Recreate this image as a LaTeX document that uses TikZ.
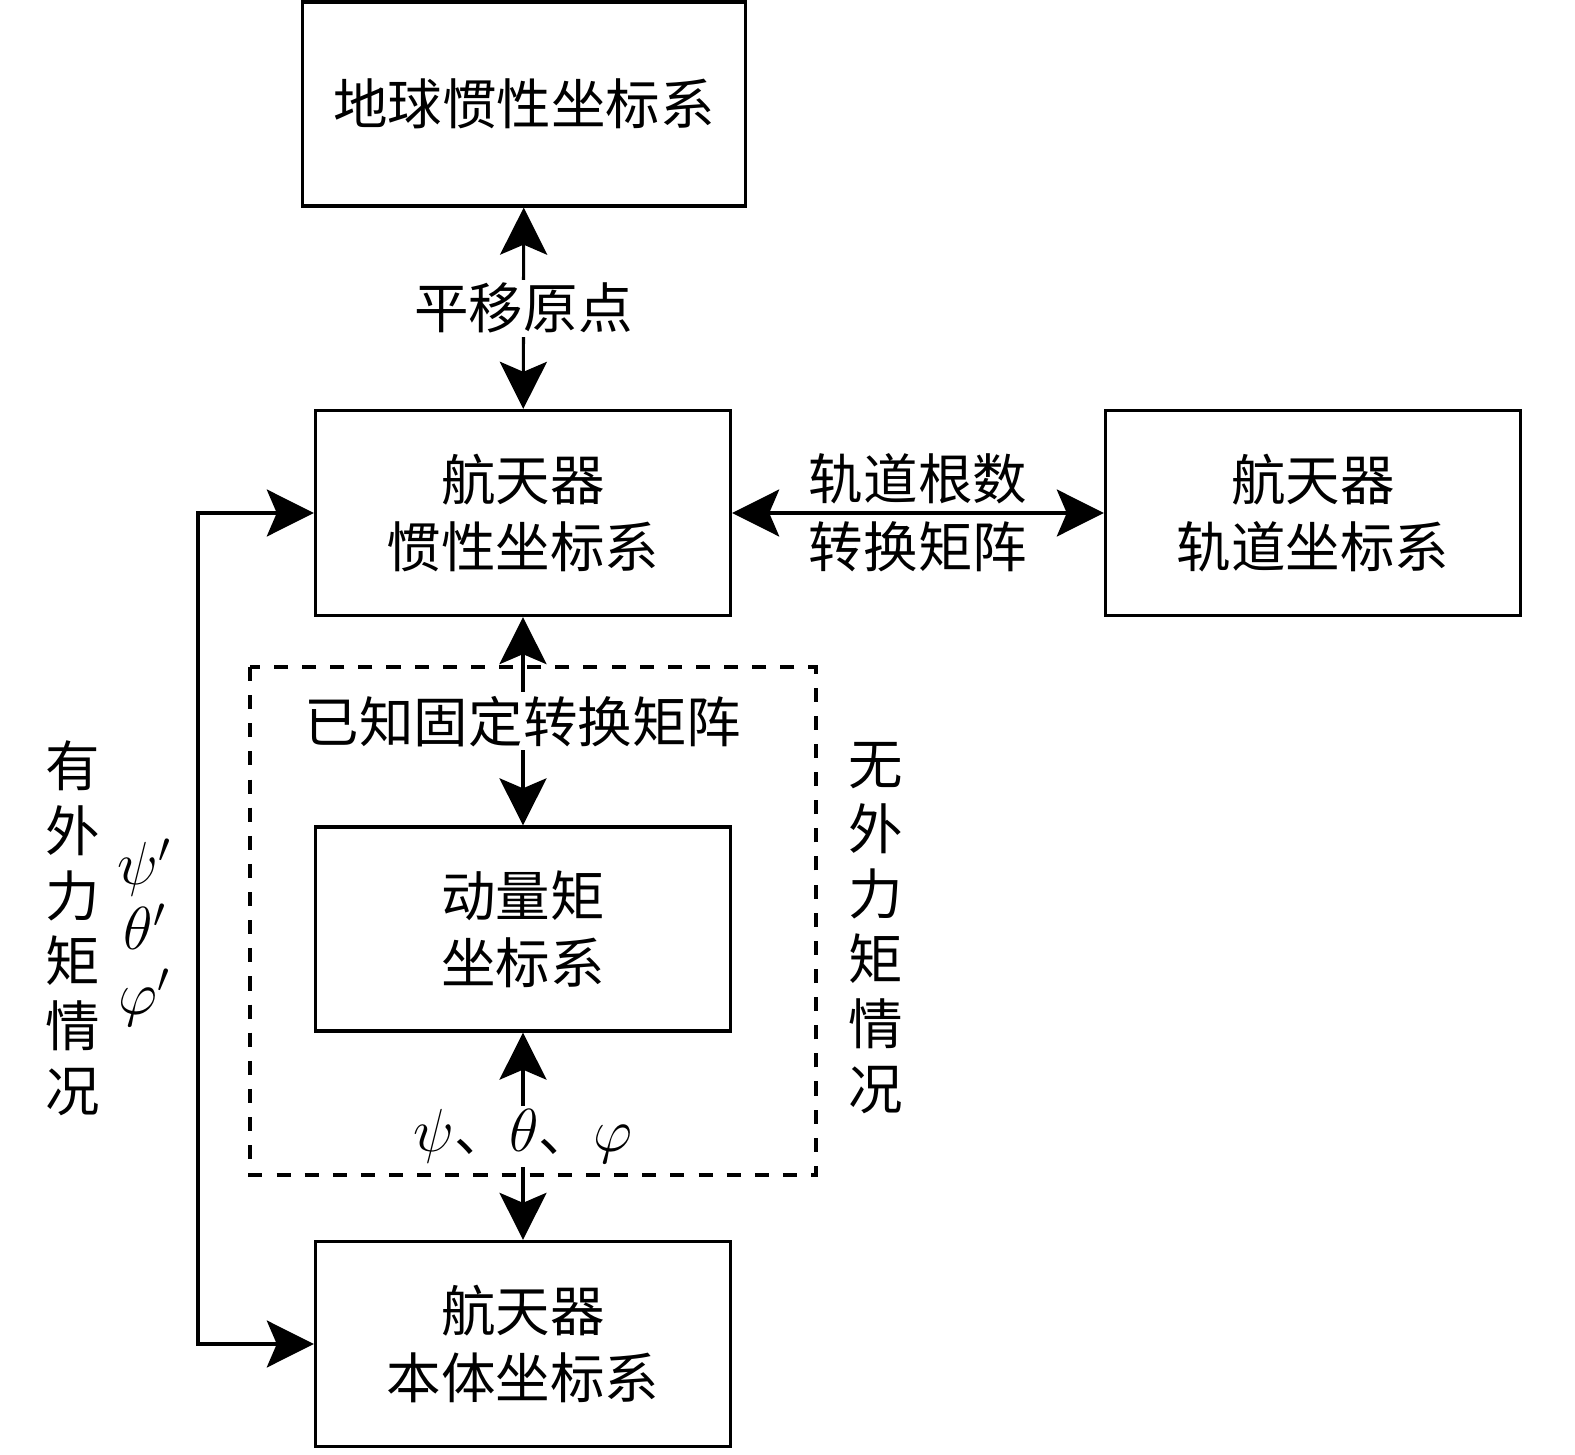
\documentclass[tikz,border=0pt]{standalone}
\usepackage{fontspec}
\newfontfamily\cjk{Noto Sans CJK SC}
\usetikzlibrary{arrows.meta,positioning}

\tikzset{
  frame/.style={draw,line width=0.9pt,minimum width=4.15cm,minimum height=2.05cm,
    align=center,font=\cjk\fontsize{15.5}{19}\selectfont},
  link/.style={line width=0.9pt,
    {Stealth[length=4.7mm,width=4.7mm,inset=1mm]}-{Stealth[length=4.7mm,width=4.7mm,inset=1mm]}},
  tag/.style={font=\cjk\fontsize{15.5}{19}\selectfont,fill=white,inner sep=1pt},
  vtext/.style={align=center,font=\cjk\fontsize{15.5}{18.5}\selectfont},
}

\begin{document}
\begin{tikzpicture}[x=0.01cm,y=-0.01cm]
  \useasboundingbox (0,0) rectangle (1575,1455);
  % frames
  \node[frame,minimum width=4.42cm,minimum height=2.04cm] (earth) at (524,104) {地球惯性坐标系};
  \node[frame] (inert) at (523,513) {航天器\\惯性坐标系};
  \node[frame] (orbit) at (1313,513) {航天器\\轨道坐标系};
  \node[frame,minimum height=2.04cm] (moment) at (523,929) {动量矩\\坐标系};
  \node[frame] (body) at (523,1344) {航天器\\本体坐标系};
  \draw[line width=0.9pt,dash pattern=on 4pt off 4pt] (250,667) rectangle (816,1175);

  % links
  \draw[link] (earth) -- node[tag]{平移原点} (inert);
  \draw[link] (inert) -- node[tag]{已知固定转换矩阵} (moment);
  \draw[link] (moment) -- node[tag,font=\fontsize{18}{20}\selectfont]{$\psi${\cjk\fontsize{15.5}{19}\selectfont 、}$\theta${\cjk\fontsize{15.5}{19}\selectfont 、}$\varphi$} (body);
  \draw[link] (inert) -- node[tag,above=1pt]{轨道根数} node[tag,below=1pt]{转换矩阵} (orbit);
  \coordinate (bend) at (198,929);
  \draw[link] (inert.west) -| (bend) |- (body.west);

  % side notes
  \node[vtext] (forced) at (73,928) {有\\外\\力\\矩\\情\\况};
  \node[vtext] (free) at (876,928) {无\\外\\力\\矩\\情\\况};
  \node[align=center,font=\fontsize{18}{18.5}\selectfont] (angles) at (145,933) {$\psi'$\\$\theta'$\\$\varphi'$};
\end{tikzpicture}
\end{document}
